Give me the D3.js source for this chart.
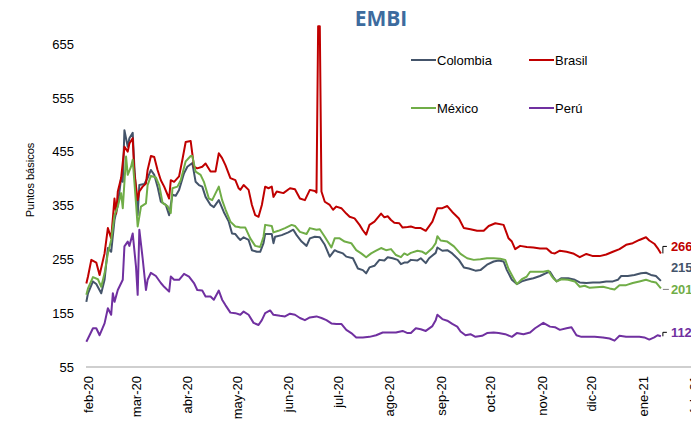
<!DOCTYPE html>
<html><head><meta charset="utf-8">
<script src="https://cdn.jsdelivr.net/npm/d3@7"></script>
<style>body{margin:0;background:#fff}svg{display:block}</style>
</head><body>
<svg id="c" width="691" height="425"></svg>
<script>
// ---------------- DATA ----------------
const seriesNames = ["Colombia", "Brasil", "México", "Perú"];
const seriesColors = ["#44546A", "#C00000", "#70AD47", "#7030A0"];
const yTicks = [55, 155, 255, 355, 455, 555, 655];
const monthLabels = ["feb-20","mar-20","abr-20","may-20","jun-20","jul-20","ago-20","sep-20","oct-20","nov-20","dic-20","ene-21","feb-21"];

const brasilDates = ["2020-01-31","2020-02-01","2020-02-03","2020-02-06","2020-02-08","2020-02-11","2020-02-13","2020-02-15","2020-02-17","2020-02-18","2020-02-19","2020-02-21","2020-02-23","2020-02-25","2020-02-26","2020-02-28","2020-02-29","2020-03-02","2020-03-03","2020-03-05","2020-03-07","2020-03-08","2020-03-10","2020-03-12","2020-03-14","2020-03-16","2020-03-18","2020-03-21","2020-03-22","2020-03-24","2020-03-27","2020-03-29","2020-03-31","2020-04-03","2020-04-05","2020-04-07","2020-04-10","2020-04-12","2020-04-15","2020-04-18","2020-04-20","2020-04-22","2020-04-24","2020-04-27","2020-04-30","2020-05-02","2020-05-03","2020-05-05","2020-05-08","2020-05-10","2020-05-12","2020-05-14","2020-05-16","2020-05-18","2020-05-20","2020-05-22","2020-05-23","2020-05-25","2020-05-29","2020-06-02","2020-06-05","2020-06-08","2020-06-11","2020-06-14","2020-06-17","2020-06-18","2020-06-19","2020-06-20","2020-06-21","2020-06-23","2020-06-26","2020-06-28","2020-06-30","2020-07-03","2020-07-06","2020-07-08","2020-07-11","2020-07-14","2020-07-16","2020-07-18","2020-07-20","2020-07-23","2020-07-27","2020-07-29","2020-07-31","2020-08-02","2020-08-04","2020-08-07","2020-08-09","2020-08-12","2020-08-14","2020-08-17","2020-08-20","2020-08-23","2020-08-27","2020-08-30","2020-09-02","2020-09-05","2020-09-08","2020-09-12","2020-09-15","2020-09-19","2020-09-23","2020-09-27","2020-09-30","2020-10-04","2020-10-09","2020-10-12","2020-10-14","2020-10-16","2020-10-19","2020-10-23","2020-10-27","2020-10-31","2020-11-04","2020-11-07","2020-11-09","2020-11-12","2020-11-16","2020-11-20","2020-11-24","2020-11-28","2020-12-02","2020-12-06","2020-12-10","2020-12-14","2020-12-18","2020-12-22","2020-12-26","2020-12-30","2021-01-03","2021-01-05","2021-01-08","2021-01-10","2021-01-12"];
const brasilValues = [210,223,254,249,226,266,313,294,368,340,381,406,464,455,470,480,415,365,381,390,396,421,447,445,421,402,390,368,402,399,409,440,473,475,427,424,427,433,418,418,452,443,430,406,402,387,384,393,384,356,337,334,356,390,387,390,371,381,378,387,385,368,365,384,382,379,688,688,381,362,356,347,353,350,340,334,331,319,309,301,319,325,340,333,335,328,323,322,314,315,316,313,313,308,325,350,350,354,343,331,313,311,308,308,317,322,319,294,288,274,280,278,277,275,275,267,266,271,269,266,259,265,261,261,264,269,274,282,285,291,296,290,284,276,266];

const colombiaDates = ["2020-01-31","2020-02-01","2020-02-04","2020-02-06","2020-02-09","2020-02-11","2020-02-13","2020-02-15","2020-02-17","2020-02-19","2020-02-21","2020-02-22","2020-02-23","2020-02-25","2020-02-26","2020-02-28","2020-02-29","2020-03-02","2020-03-03","2020-03-06","2020-03-08","2020-03-10","2020-03-12","2020-03-14","2020-03-16","2020-03-19","2020-03-21","2020-03-23","2020-03-25","2020-03-27","2020-03-30","2020-04-01","2020-04-04","2020-04-06","2020-04-08","2020-04-10","2020-04-12","2020-04-15","2020-04-17","2020-04-20","2020-04-23","2020-04-26","2020-04-28","2020-04-30","2020-05-02","2020-05-03","2020-05-05","2020-05-08","2020-05-10","2020-05-13","2020-05-15","2020-05-17","2020-05-18","2020-05-22","2020-05-23","2020-05-24","2020-05-28","2020-06-01","2020-06-04","2020-06-06","2020-06-09","2020-06-12","2020-06-14","2020-06-17","2020-06-20","2020-06-23","2020-06-26","2020-06-29","2020-07-01","2020-07-04","2020-07-06","2020-07-10","2020-07-13","2020-07-16","2020-07-18","2020-07-20","2020-07-23","2020-07-26","2020-07-29","2020-07-31","2020-08-03","2020-08-06","2020-08-08","2020-08-10","2020-08-12","2020-08-14","2020-08-18","2020-08-20","2020-08-23","2020-08-25","2020-08-29","2020-08-30","2020-09-02","2020-09-05","2020-09-08","2020-09-12","2020-09-15","2020-09-18","2020-09-22","2020-09-25","2020-09-29","2020-10-03","2020-10-06","2020-10-09","2020-10-11","2020-10-14","2020-10-17","2020-10-20","2020-10-23","2020-10-27","2020-10-31","2020-11-04","2020-11-06","2020-11-08","2020-11-10","2020-11-13","2020-11-17","2020-11-21","2020-11-24","2020-11-28","2020-12-02","2020-12-06","2020-12-10","2020-12-14","2020-12-17","2020-12-19","2020-12-23","2020-12-27","2020-12-31","2021-01-03","2021-01-06","2021-01-09","2021-01-12"];
const colombiaValues = [176,192,214,209,192,217,276,269,328,356,406,399,495,464,480,490,427,337,393,395,406,421,412,390,362,356,337,375,373,384,415,427,434,399,393,390,371,356,352,365,343,325,303,302,294,291,296,291,272,269,269,285,302,302,285,297,300,305,310,300,288,280,294,297,296,282,260,272,269,266,260,257,238,235,229,240,243,254,253,259,257,254,246,249,249,254,253,257,248,257,267,277,271,272,266,254,240,238,234,235,245,251,253,251,235,217,209,214,217,220,224,230,232,222,214,220,220,217,212,211,212,212,214,214,217,224,224,226,229,230,226,224,215];

const mexicoDates = ["2020-01-31","2020-02-01","2020-02-04","2020-02-07","2020-02-09","2020-02-11","2020-02-13","2020-02-15","2020-02-17","2020-02-19","2020-02-21","2020-02-22","2020-02-24","2020-02-25","2020-02-27","2020-02-28","2020-03-01","2020-03-02","2020-03-04","2020-03-07","2020-03-08","2020-03-10","2020-03-13","2020-03-15","2020-03-17","2020-03-20","2020-03-22","2020-03-23","2020-03-26","2020-03-28","2020-03-31","2020-04-03","2020-04-04","2020-04-06","2020-04-09","2020-04-11","2020-04-14","2020-04-16","2020-04-20","2020-04-22","2020-04-24","2020-04-27","2020-04-30","2020-05-02","2020-05-03","2020-05-06","2020-05-09","2020-05-12","2020-05-15","2020-05-17","2020-05-18","2020-05-22","2020-05-23","2020-05-26","2020-05-30","2020-06-03","2020-06-05","2020-06-08","2020-06-12","2020-06-14","2020-06-18","2020-06-20","2020-06-23","2020-06-27","2020-06-29","2020-07-02","2020-07-05","2020-07-09","2020-07-12","2020-07-15","2020-07-18","2020-07-21","2020-07-24","2020-07-27","2020-07-30","2020-08-02","2020-08-05","2020-08-08","2020-08-10","2020-08-12","2020-08-14","2020-08-18","2020-08-21","2020-08-23","2020-08-27","2020-08-29","2020-08-30","2020-09-01","2020-09-05","2020-09-09","2020-09-13","2020-09-17","2020-09-21","2020-09-25","2020-09-29","2020-10-03","2020-10-07","2020-10-10","2020-10-12","2020-10-15","2020-10-17","2020-10-20","2020-10-23","2020-10-25","2020-10-29","2020-11-02","2020-11-05","2020-11-07","2020-11-08","2020-11-10","2020-11-13","2020-11-17","2020-11-21","2020-11-24","2020-11-27","2020-11-30","2020-12-04","2020-12-08","2020-12-12","2020-12-15","2020-12-18","2020-12-22","2020-12-26","2020-12-30","2021-01-03","2021-01-06","2021-01-09","2021-01-12"];
const mexicoValues = [189,201,222,218,204,229,266,291,337,353,378,350,446,412,427,440,359,316,353,359,393,410,407,393,360,354,341,387,390,402,437,447,447,418,412,399,368,365,390,365,348,325,316,315,314,314,294,280,278,297,319,317,305,308,313,319,317,306,302,313,310,311,297,277,294,294,288,285,272,266,259,266,271,276,272,274,263,259,266,263,267,271,269,265,276,285,298,290,288,279,265,257,254,255,257,257,256,254,237,220,209,218,223,232,232,232,234,224,220,214,218,217,214,204,206,202,203,204,201,199,207,207,211,214,217,214,212,201];

const peruDates = ["2020-01-31","2020-02-01","2020-02-04","2020-02-06","2020-02-08","2020-02-11","2020-02-13","2020-02-15","2020-02-16","2020-02-17","2020-02-19","2020-02-22","2020-02-23","2020-02-25","2020-02-26","2020-02-28","2020-03-01","2020-03-02","2020-03-03","2020-03-05","2020-03-07","2020-03-08","2020-03-10","2020-03-13","2020-03-16","2020-03-18","2020-03-21","2020-03-22","2020-03-24","2020-03-27","2020-03-30","2020-04-02","2020-04-05","2020-04-07","2020-04-10","2020-04-12","2020-04-15","2020-04-17","2020-04-20","2020-04-22","2020-04-24","2020-04-27","2020-04-30","2020-05-03","2020-05-05","2020-05-08","2020-05-11","2020-05-14","2020-05-16","2020-05-18","2020-05-21","2020-05-23","2020-05-27","2020-05-30","2020-06-02","2020-06-05","2020-06-08","2020-06-11","2020-06-14","2020-06-18","2020-06-21","2020-06-24","2020-06-27","2020-06-30","2020-07-03","2020-07-06","2020-07-09","2020-07-12","2020-07-16","2020-07-20","2020-07-24","2020-07-28","2020-08-01","2020-08-05","2020-08-09","2020-08-12","2020-08-14","2020-08-17","2020-08-20","2020-08-23","2020-08-27","2020-08-29","2020-08-30","2020-09-02","2020-09-05","2020-09-08","2020-09-11","2020-09-13","2020-09-16","2020-09-19","2020-09-22","2020-09-26","2020-09-29","2020-10-03","2020-10-06","2020-10-10","2020-10-14","2020-10-17","2020-10-21","2020-10-25","2020-10-28","2020-11-02","2020-11-06","2020-11-09","2020-11-12","2020-11-16","2020-11-19","2020-11-22","2020-11-25","2020-11-29","2020-12-03","2020-12-08","2020-12-12","2020-12-15","2020-12-18","2020-12-22","2020-12-26","2020-12-30","2021-01-02","2021-01-05","2021-01-08","2021-01-10","2021-01-12"];
const peruValues = [102,108,127,127,114,136,164,152,192,176,198,217,279,288,280,303,241,189,310,257,198,217,230,224,211,204,195,223,217,217,228,223,211,198,197,186,186,180,197,180,170,156,155,152,158,152,137,133,142,155,160,152,150,149,154,152,146,142,147,149,146,142,136,135,135,124,118,110,110,111,114,119,119,119,122,118,118,127,125,122,131,142,152,144,141,135,130,121,114,116,111,113,118,119,118,116,111,118,116,119,127,137,130,129,124,127,129,114,111,111,111,110,108,104,113,111,111,111,110,106,110,114,112];

// ---------------- CHART ----------------
const parse = d3.timeParse("%Y-%m-%d");
const svg = d3.select("#c");
const font = "'Liberation Sans', Arial, sans-serif";

const x = d3.scaleTime().domain([parse("2020-02-01"), parse("2021-02-01")]).range([88, 694]);
const y = d3.scaleLinear().domain([55, 655]).range([367, 44]);

const allDates = [colombiaDates, brasilDates, mexicoDates, peruDates];
const allValues = [colombiaValues, brasilValues, mexicoValues, peruValues];
const series = seriesNames.map((n, i) => ({
  name: n, color: seriesColors[i],
  pts: allDates[i].map((d, j) => ({ date: parse(d), v: allValues[i][j] }))
}));

// Title
svg.append("text").attr("x", 381).attr("y", 26).attr("text-anchor", "middle")
  .style("font-family", "'Open Sans', sans-serif").style("font-weight", "bold")
  .style("font-size", "21px").style("fill", "#3D6B9E").text("EMBI");

// Y axis
const yAxis = svg.append("g").attr("transform", "translate(88,0)")
  .call(d3.axisLeft(y).tickValues(yTicks).tickSize(0).tickPadding(14));
yAxis.select(".domain").remove();
yAxis.selectAll("text").style("font-family", font).style("font-size", "13px").style("fill", "#000");

svg.append("text").attr("transform", "translate(34,180) rotate(-90)").attr("text-anchor", "middle")
  .style("font-family", font).style("font-size", "11px").style("fill", "#000").text("Puntos básicos");

// X axis
const monthDates = d3.timeMonth.range(parse("2020-02-01"), parse("2021-02-02"));
const xAxis = svg.append("g").attr("transform", "translate(0,367)")
  .call(d3.axisBottom(x).tickValues(monthDates).tickFormat((d, i) => monthLabels[i]).tickSize(0));
xAxis.select(".domain").attr("stroke", "#BFBFBF").attr("stroke-width", 1.5).attr("d", "M86,0H700");
xAxis.selectAll("text").attr("transform", "rotate(-90)").attr("text-anchor", "end")
  .attr("x", -9).attr("y", 0).attr("dy", "0.35em")
  .style("font-family", font).style("font-size", "13px").style("fill", "#000");

// Lines
const line = d3.line().x(d => x(d.date)).y(d => y(d.v));
series.forEach(s => {
  svg.append("path").datum(s.pts).attr("d", line).attr("fill", "none")
    .attr("stroke", s.color).attr("stroke-width", 2).attr("stroke-linejoin", "round");
});

// Legend
const legendPos = [[411, 60], [529, 60], [411, 108], [529, 108]];
series.forEach((s, i) => {
  const [lx, ly] = legendPos[i];
  svg.append("line").attr("x1", lx).attr("x2", lx + 25).attr("y1", ly).attr("y2", ly)
    .attr("stroke", s.color).attr("stroke-width", 2);
  svg.append("text").attr("x", lx + 26).attr("y", ly).attr("dy", "0.35em")
    .style("font-family", font).style("font-size", "13px").style("fill", "#000").text(s.name);
});

// End labels
const labelOffset = [-13, -7, 1, -4];
const leaderType = ["none", "bracket", "flat", "bracket"];
series.forEach((s, i) => {
  const last = s.pts[s.pts.length - 1];
  const ex = x(last.date), ey = y(last.v);
  const ly = ey + labelOffset[i];
  if (leaderType[i] === "bracket") {
    svg.append("path").attr("d", `M${ex + 2},${ey}V${ly}H${ex + 6}`).attr("fill", "none")
      .attr("stroke", "#000").attr("stroke-width", 1);
  } else if (leaderType[i] === "flat") {
    svg.append("path").attr("d", `M${ex + 2},${ly}H${ex + 8}`).attr("fill", "none")
      .attr("stroke", "#7F7F7F").attr("stroke-width", 1);
  }
  svg.append("text").attr("x", ex + 10).attr("y", ly).attr("dy", "0.35em")
    .style("font-family", font).style("font-weight", "bold").style("font-size", "13px")
    .style("fill", s.color).text(last.v);
});
</script>
</body></html>
